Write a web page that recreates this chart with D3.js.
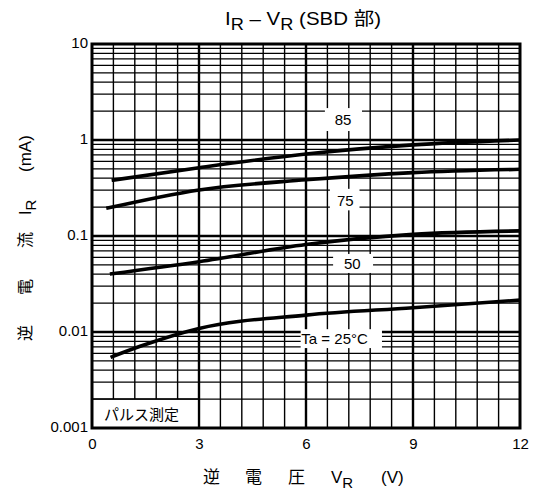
<!DOCTYPE html>
<html><head><meta charset="utf-8">
<script src="https://cdn.jsdelivr.net/npm/d3@7"></script>
<style>
body{margin:0;background:#fff;}
text{font-family:"Liberation Sans",Arial,"Noto Sans CJK JP",sans-serif;fill:#000;}
.jp{font-family:"Liberation Sans","Noto Sans CJK JP",sans-serif;}
</style></head>
<body>
<svg id="c" width="534" height="501"></svg>
<script>
// ---- data ----
const xTicks = [0, 3, 6, 9, 12];
const yTicks = [0.001, 0.01, 0.1, 1, 10];
const yTickLabels = ["0.001", "0.01", "0.1", "1", "10"];
const seriesNames = ["85", "75", "50", "Ta = 25°C"];
const v85 = [0.55, 3, 6, 9, 12];
const i85 = [0.38, 0.515, 0.715, 0.89, 1.0];
const v75 = [0.4, 3, 6, 9, 12];
const i75 = [0.194, 0.302, 0.385, 0.457, 0.495];
const v50 = [0.5, 3, 6, 9, 12];
const i50 = [0.0402, 0.054, 0.0815, 0.104, 0.113];
const v25 = [0.52, 1.35, 3, 6, 9, 12];
const i25 = [0.00545, 0.0071, 0.0109, 0.0150, 0.0179, 0.0215];

const svg = d3.select("#c");
const L = 92, R = 520, T = 44, B = 428;
const x = d3.scaleLinear().domain([0, 12]).range([L, R]);
const y = d3.scaleLog().domain([0.001, 10]).range([B, T]);

const g = svg.append("g");
// vertical grid every 0.6 V
const vLines = d3.range(1, 20).map(i => ({v: +(i * 0.6).toFixed(2), major: i % 5 === 0}));
g.selectAll("line.v").data(vLines).join("line")
  .attr("x1", d => x(d.v)).attr("x2", d => x(d.v)).attr("y1", T).attr("y2", B)
  .attr("stroke", "#000").attr("stroke-width", d => d.major ? 2.4 : 1.4);
// horizontal log grid
const hLines = [];
for (let e = -3; e <= 0; e++) for (let k = 1; k <= 9; k++) hLines.push({v: k * Math.pow(10, e), major: k === 1});
g.selectAll("line.h").data(hLines.filter(d => d.v > 0.001)).join("line")
  .attr("x1", L).attr("x2", R).attr("y1", d => y(d.v)).attr("y2", d => y(d.v))
  .attr("stroke", "#000").attr("stroke-width", d => d.major ? 2.4 : 1.3);

// white label boxes
const boxData = [
  {x0: 6.53, x1: 7.57, y0: 2.15, y1: 1.24},
  {x0: 6.67, x1: 7.5, y0: 0.31, y1: 0.185},
  {x0: 6.76, x1: 7.88, y0: 0.065, y1: 0.0412},
  {x0: 5.85, x1: 8.13, y0: 0.0107, y1: 0.0068},
  {x0: 0, x1: 2.99, y0: 0.002, y1: 0.001}
];
g.selectAll("rect.lb").data(boxData).join("rect")
  .attr("x", d => x(d.x0)).attr("width", d => x(d.x1) - x(d.x0))
  .attr("y", d => y(d.y0)).attr("height", d => y(d.y1) - y(d.y0))
  .attr("fill", "#fff");
g.append("rect").attr("x", x(0)).attr("y", y(0.002)).attr("width", x(2.99) - x(0)).attr("height", y(0.001) - y(0.002))
  .attr("fill", "none").attr("stroke", "#000").attr("stroke-width", 1.6);

// frame
g.append("rect").attr("x", L).attr("y", T).attr("width", R - L).attr("height", B - T)
  .attr("fill", "none").attr("stroke", "#000").attr("stroke-width", 3);

// curves
const line = d3.line().x(d => x(d[0])).y(d => y(d[1])).curve(d3.curveMonotoneX);
const series = [[v85, i85], [v75, i75], [v50, i50], [v25, i25]];
g.selectAll("path.s").data(series).join("path")
  .attr("d", d => line(d[0].map((v, i) => [v, d[1][i]])))
  .attr("fill", "none").attr("stroke", "#000").attr("stroke-width", 3.6).attr("stroke-linecap", "butt");

// series labels
const labPos = [[7.04, 1.65], [7.1, 0.237], [7.3, 0.0523], [5.87, 0.0085]];
g.selectAll("text.sl").data(seriesNames).join("text")
  .attr("x", (d, i) => x(labPos[i][0])).attr("y", (d, i) => y(labPos[i][1]))
  .attr("text-anchor", (d, i) => i === 3 ? "start" : "middle").attr("dominant-baseline", "central")
  .attr("font-size", 15).text(d => d);
g.append("text").attr("class", "jp").attr("x", 104).attr("y", 414).attr("dominant-baseline", "central")
  .attr("font-size", 15).text("パルス測定");

// axes labels
const xa = svg.append("g").attr("transform", `translate(0,${B})`)
  .call(d3.axisBottom(x).tickValues(xTicks).tickSize(0).tickPadding(10).tickFormat(d3.format("d")));
xa.select(".domain").remove();
xa.selectAll("text").attr("font-size", 15).attr("font-family", "Liberation Sans").attr("fill", "#000");
const ya = svg.append("g").attr("transform", `translate(${L},0)`)
  .call(d3.axisLeft(y).tickValues(yTicks).tickSize(0).tickPadding(4).tickFormat((d, i) => yTickLabels[i]));
ya.select(".domain").remove();
ya.selectAll("text").attr("font-size", 15).attr("font-family", "Liberation Sans").attr("fill", "#000").attr("dy", "0.2em");

// title
const t = svg.append("text").attr("x", 303).attr("y", 25).attr("text-anchor", "middle").attr("font-size", 18)
  .attr("textLength", 156).attr("lengthAdjust", "spacingAndGlyphs");
t.append("tspan").text("I");
t.append("tspan").attr("dy", 5).attr("font-size", 16).text("R");
t.append("tspan").attr("dy", -5).text(" – V");
t.append("tspan").attr("dy", 5).attr("font-size", 16).text("R");
t.append("tspan").attr("dy", -5).text(" (SBD 部)");

// x label
const xl = svg.append("text").attr("y", 483).attr("font-size", 17);
xl.append("tspan").attr("x", 203).text("逆");
xl.append("tspan").attr("x", 245).text("電");
xl.append("tspan").attr("x", 288).text("圧");
xl.append("tspan").attr("x", 331).text("V");
xl.append("tspan").attr("dy", 5).attr("font-size", 15).text("R");
xl.append("tspan").attr("x", 381).attr("dy", -5).text("(V)");

// y label
const yl = svg.append("text").attr("transform", "translate(31,0) rotate(-90)").attr("font-size", 16);
yl.append("tspan").attr("x", -341).text("逆");
yl.append("tspan").attr("x", -295).text("電");
yl.append("tspan").attr("x", -248).text("流");
yl.append("tspan").attr("x", -215).text("I");
yl.append("tspan").attr("dy", 5).attr("font-size", 15).text("R");
yl.append("tspan").attr("x", -172).attr("dy", -5).attr("font-size", 17).text("(mA)");
</script>
</body></html>
